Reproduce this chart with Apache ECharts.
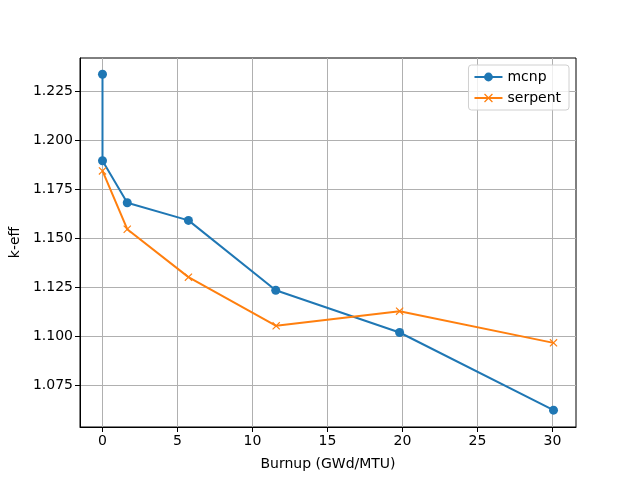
<!DOCTYPE html>
<html>
<head>
<meta charset="utf-8">
<script src="https://cdn.jsdelivr.net/npm/echarts@6/dist/echarts.min.js"></script>
<style>
  html, body { margin: 0; padding: 0; background: #fff; }
  #chart { width: 640px; height: 480px; }
</style>
</head>
<body>
<div id="chart"></div>
<script>
// burnup steps (GWd/MTU)
const burnup = [0, 0, 1.65, 5.73, 11.55, 19.81, 30.07]
const serpentBurnup = [0, 1.65, 5.73, 11.58, 19.81, 30.07]
// k-eff values
const mcnp = [1.2339, 1.1897, 1.1682, 1.1592, 1.1235, 1.1019, 1.0622]
const serpent = [1.1845, 1.1547, 1.1302, 1.1053, 1.1128, 1.0966]
// tick labels
const xTicks = [0, 5, 10, 15, 20, 25, 30]
const yTicks = [1.075, 1.1, 1.125, 1.15, 1.175, 1.2, 1.225]

const font = 'DejaVu Sans'
const crossPath = 'path://M1,0L5,4L9,0L10,1L6,5L10,9L9,10L5,6L1,10L0,9L4,5L0,1Z'

const myChart = echarts.init(document.querySelector('#chart'))
const option = {
  backgroundColor: '#fff',
  animation: false,
  textStyle: { fontFamily: font },
  grid: {
    left: 80,
    right: 64,
    top: 58,
    bottom: 53,
    show: true,
    borderColor: '#000',
    borderWidth: 1,
    containLabel: false
  },
  legend: {
    right: 71,
    top: 65,
    orient: 'vertical',
    backgroundColor: 'rgba(255,255,255,0.8)',
    borderColor: '#d0d0d0',
    borderWidth: 1,
    borderRadius: 3,
    padding: [5, 8, 5, 5],
    itemGap: 7,
    itemWidth: 28,
    itemHeight: 11,
    textStyle: { fontFamily: font, fontSize: 14, color: '#000' },
    data: ['mcnp', 'serpent']
  },
  xAxis: {
    type: 'value',
    min: -1.5,
    max: 31.57,
    name: 'Burnup (GWd/MTU)',
    nameLocation: 'middle',
    nameGap: 30,
    nameTextStyle: { fontFamily: font, fontSize: 14, color: '#000' },
    axisLine: { show: true, onZero: false, lineStyle: { color: '#000', width: 1 } },
    axisTick: { show: true, length: 5, customValues: xTicks, lineStyle: { color: '#000' } },
    axisLabel: { customValues: xTicks, fontFamily: font, fontSize: 14, color: '#000', margin: 7 },
    splitLine: { show: true, customValues: xTicks, lineStyle: { color: '#b0b0b0', width: 1 } }
  },
  yAxis: {
    type: 'value',
    min: 1.0536,
    max: 1.2422,
    name: 'k-eff',
    nameLocation: 'middle',
    nameGap: 55,
    nameTextStyle: { fontFamily: font, fontSize: 14, color: '#000' },
    axisLine: { show: true, onZero: false, lineStyle: { color: '#000', width: 1 } },
    axisTick: { show: true, length: 5, customValues: yTicks, lineStyle: { color: '#000' } },
    axisLabel: {
      customValues: yTicks,
      fontFamily: font,
      fontSize: 14,
      color: '#000',
      margin: 7,
      formatter: v => v.toFixed(3)
    },
    splitLine: { show: true, customValues: yTicks, lineStyle: { color: '#b0b0b0', width: 1 } }
  },
  series: [
    {
      name: 'mcnp',
      type: 'line',
      data: burnup.map((b, i) => [b, mcnp[i]]),
      symbol: 'circle',
      symbolSize: 9,
      showAllSymbol: true,
      color: '#1f77b4',
      lineStyle: { width: 2, color: '#1f77b4' },
      itemStyle: { color: '#1f77b4' },
      z: 3
    },
    {
      name: 'serpent',
      type: 'line',
      data: serpentBurnup.map((b, i) => [b, serpent[i]]),
      symbol: crossPath,
      symbolSize: 8,
      showAllSymbol: true,
      color: '#ff7f0e',
      lineStyle: { width: 2, color: '#ff7f0e' },
      itemStyle: { color: '#ff7f0e' },
      z: 4
    }
  ]
}
myChart.setOption(option)
</script>
</body>
</html>
